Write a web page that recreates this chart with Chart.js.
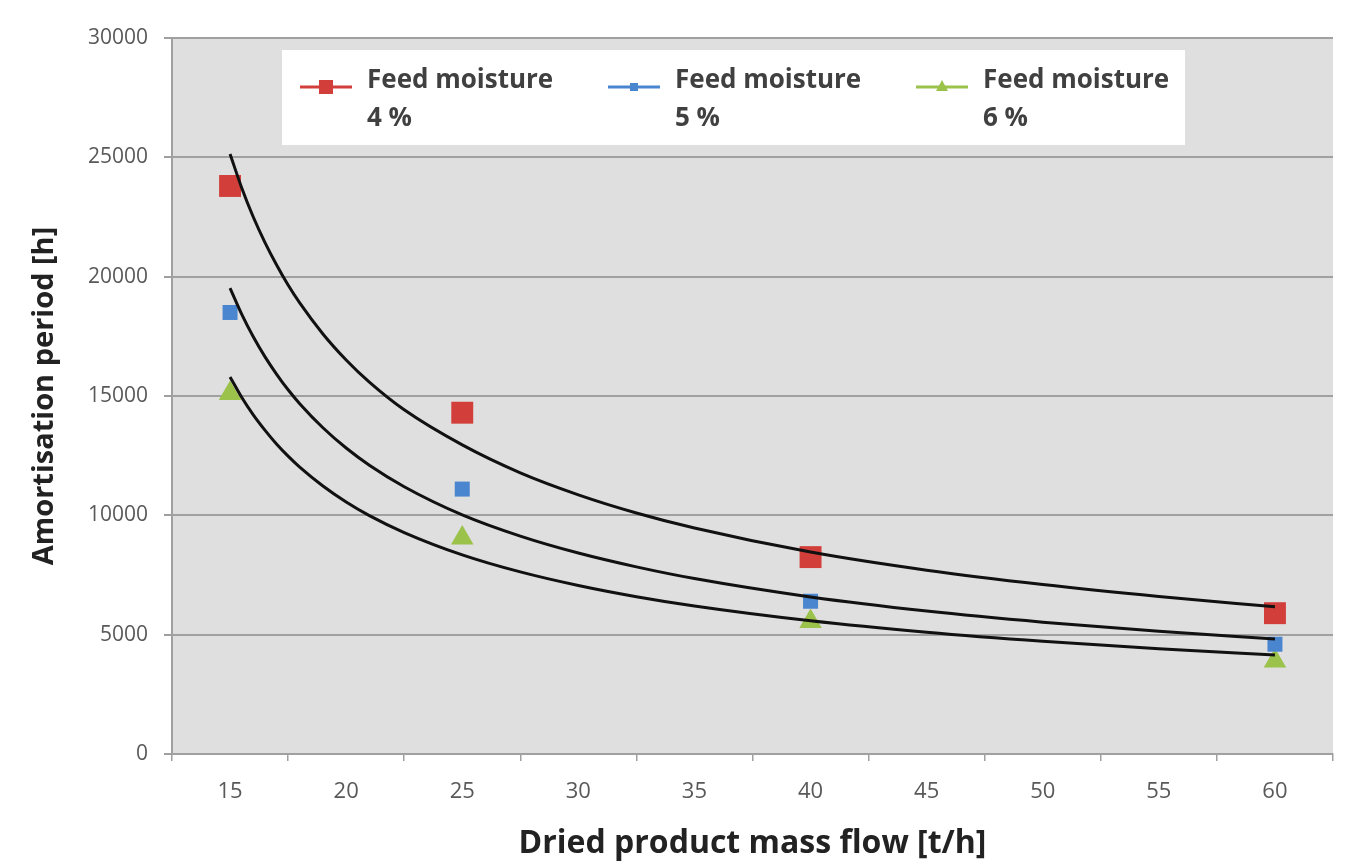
<!DOCTYPE html>
<html>
<head>
<meta charset="utf-8">
<script src="https://cdn.jsdelivr.net/npm/chart.js@4.4.1/dist/chart.umd.min.js"></script>
<style>
    html, body { margin: 0; padding: 0; background: #fff; }
    #contenitore { width: 1360px; height: 868px; position: relative; }
</style>
</head>
<body>
<div id="contenitore"><canvas id="grafico"></canvas></div>
<script>
// Punti misurati: portata di prodotto essiccato [t/h] e periodo di ammortamento [h]
const portata = [15, 25, 40, 60];
const umidita4 = [23800, 14300, 8250, 5900];
const umidita5 = [18500, 11100, 6400, 4600];
const umidita6 = [15100, 9050, 5550, 3900];

// Curve di tendenza (valori letti lungo le curve nere)
const trendX = [15, 15.5, 16, 16.5, 17, 17.5, 18, 19, 20, 21, 22.5, 25, 27.5, 30, 32.5, 35, 40, 45, 50, 55, 60];
const trend4 = [25140, 23730, 22500, 21440, 20500, 19650, 18900, 17600, 16510, 15580, 14420, 12950, 11780, 10860, 10100, 9470, 8460, 7700, 7100, 6600, 6170];
const trend5 = [19520, 18430, 17480, 16650, 15920, 15260, 14680, 13670, 12820, 12100, 11200, 10020, 9130, 8420, 7840, 7350, 6580, 5990, 5525, 5145, 4820];
const trend6 = [15800, 14950, 14210, 13570, 12990, 12480, 12020, 11230, 10560, 9990, 9280, 8345, 7630, 7060, 6590, 6200, 5580, 5100, 4720, 4410, 4150];

const etichetteX = [15, 20, 25, 30, 35, 40, 45, 50, 55, 60];
const nomiSerie = [["Feed moisture", "4 %"], ["Feed moisture", "5 %"], ["Feed moisture", "6 %"]];
const colori = ["#d23f3a", "#4a85cf", "#9bc24a"];

const punti = (xs, ys) => xs.map((x, i) => ({ x: x, y: ys[i] }));

Chart.defaults.font.family = "'Open Sans'";

// Sfondo grigio dell'area del grafico
const sfondoPlugin = {
    id: "sfondo",
    beforeDraw(chart) {
        const { ctx, chartArea: a } = chart;
        ctx.save();
        ctx.fillStyle = "#dfdfdf";
        ctx.fillRect(a.left, a.top, a.width, a.height);
        ctx.restore();
    }
};

// Legenda a riquadro bianco dentro l'area del grafico
const legendaPlugin = {
    id: "legenda",
    afterDraw(chart) {
        const { ctx, chartArea: a } = chart;
        const x0 = a.left + 110, y0 = a.top + 12;
        ctx.save();
        ctx.fillStyle = "#ffffff";
        ctx.fillRect(x0, y0, 903, 95);
        nomiSerie.forEach((righe, i) => {
            const lx = x0 + 18 + i * 308;
            const ly = y0 + 37;
            ctx.strokeStyle = colori[i];
            ctx.lineWidth = 3;
            ctx.beginPath();
            ctx.moveTo(lx, ly);
            ctx.lineTo(lx + 52, ly);
            ctx.stroke();
            ctx.fillStyle = colori[i];
            const cx = lx + 26;
            if (i === 0) ctx.fillRect(cx - 7, ly - 7, 14, 14);
            else if (i === 1) ctx.fillRect(cx - 4, ly - 4, 8, 8);
            else {
                ctx.beginPath();
                ctx.moveTo(cx, ly - 7);
                ctx.lineTo(cx + 6, ly + 4);
                ctx.lineTo(cx - 6, ly + 4);
                ctx.closePath();
                ctx.fill();
            }
            ctx.fillStyle = "#404040";
            ctx.font = "bold 26px 'Open Sans'";
            ctx.textBaseline = "middle";
            ctx.textAlign = "left";
            ctx.fillText(righe[0], lx + 67, y0 + 31);
            ctx.fillText(righe[1], lx + 67, y0 + 69);
        });
        ctx.restore();
    }
};

const serieTrend = [trend4, trend5, trend6].map((t, i) => ({
    label: "Trend " + nomiSerie[i].join(" "),
    data: punti(trendX, t),
    showLine: true,
    borderColor: "#111111",
    borderWidth: 3,
    pointRadius: 0,
    cubicInterpolationMode: "monotone",
    order: 0
}));

const seriePunti = [
    { data: umidita4, stile: "rect", r: 15.5 },
    { data: umidita5, stile: "rect", r: 10.6 },
    { data: umidita6, stile: "triangle", r: 13 }
].map((s, i) => ({
    label: nomiSerie[i].join(" "),
    data: punti(portata, s.data),
    showLine: false,
    pointStyle: s.stile,
    pointRadius: s.r,
    pointBackgroundColor: colori[i],
    pointBorderWidth: 0,
    order: 1
}));

new Chart(document.getElementById("grafico"), {
    type: "scatter",
    data: { datasets: [...serieTrend, ...seriePunti] },
    options: {
        responsive: true,
        maintainAspectRatio: false,
        animation: false,
        layout: { padding: { left: 0, top: 38, right: 27, bottom: 0 } },
        plugins: {
            legend: { display: false },
            tooltip: { enabled: false }
        },
        scales: {
            x: {
                type: "linear",
                min: 12.5,
                max: 62.5,
                afterFit: scale => { scale.height = 114; },
                ticks: {
                    stepSize: 2.5,
                    autoSkip: false,
                    maxRotation: 0,
                    color: "#595959",
                    font: { size: 22 },
                    padding: 18,
                    callback: v => etichetteX.includes(v) ? String(v) : ""
                },
                grid: {
                    drawOnChartArea: false,
                    drawTicks: true,
                    tickLength: 7,
                    lineWidth: 1.5,
                    tickColor: ctx => (ctx.tick && etichetteX.includes(ctx.tick.value)) ? "rgba(0,0,0,0)" : "#a0a0a0"
                },
                border: { display: true, color: "#a0a0a0", width: 2 },
                title: {
                    display: true,
                    text: "Dried product mass flow [t/h]",
                    color: "#222222",
                    font: { size: 32, weight: "bold" },
                    padding: { top: 0, bottom: 5 }
                }
            },
            y: {
                min: 0,
                max: 30000,
                afterFit: scale => { scale.width = 172; },
                ticks: {
                    stepSize: 5000,
                    color: "#595959",
                    font: { size: 21 },
                    padding: 16,
                    callback: v => String(v)
                },
                grid: {
                    color: "#a0a0a0",
                    lineWidth: 2,
                    tickLength: 8
                },
                border: { display: true, color: "#a0a0a0", width: 2 },
                title: {
                    display: true,
                    text: "Amortisation period [h]",
                    color: "#222222",
                    font: { size: 29, weight: "bold" },
                    padding: { top: 27, bottom: 0 }
                }
            }
        }
    },
    plugins: [sfondoPlugin, legendaPlugin]
});
</script>
</body>
</html>
